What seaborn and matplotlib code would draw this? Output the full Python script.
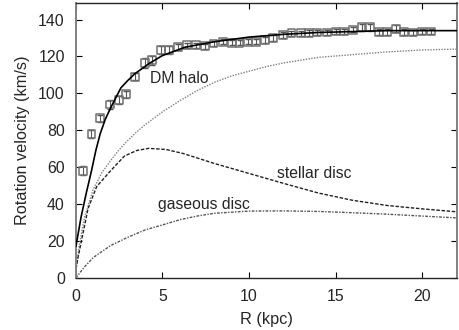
import matplotlib
matplotlib.use("Agg")
import matplotlib.pyplot as plt
import seaborn as sns
import pandas as pd

# observed rotation curve (kpc, km/s)
r_obs = [0.4, 0.9, 1.4, 1.95, 2.5, 2.9, 3.4, 4.0, 4.4, 4.9, 5.4, 5.9, 6.4, 6.95,
         7.45, 7.95, 8.5, 9.0, 9.45, 9.95, 10.4, 10.9, 11.4, 11.95, 12.45, 13.0,
         13.45, 13.95, 14.5, 15.0, 15.5, 16.0, 16.5, 17.0, 17.5, 17.95, 18.5,
         18.95, 19.45, 20.0, 20.5]
v_obs = [58, 78, 86.5, 94, 96.5, 99.5, 109, 116.5, 118, 123.5, 123.5, 125, 126,
         126, 125.5, 127, 128, 127.5, 127.5, 128, 128, 129, 130, 131.5, 132.5,
         132.5, 132.8, 133, 133, 133.5, 133.5, 134.5, 135.8, 135.8, 133.2, 133.2,
         135, 133.2, 133, 133.5, 133.5]
v_err = [2.5, 2, 2, 2.5, 2, 2, 2, 2.5, 2.5, 2, 2, 1.5, 1.5, 1.5, 1.5, 1.5, 1.5,
         1.5, 1.5, 1.5, 1.5, 1.5, 1.5, 1.5, 1.5, 1.5, 1.5, 1.5, 1.5, 1.5, 1.5,
         1.5, 2, 2, 1.5, 1.5, 2, 1.5, 1.5, 1.5, 1.5]

# model components
r_tot = [0, 0.3, 0.6, 0.9, 1.15, 1.4, 1.7, 2.0, 2.6, 3.0, 3.4, 4.2, 5.0, 6.3,
         8, 10, 12, 14, 16, 18, 20, 22]
v_tot = [17, 33, 46, 58, 69, 78, 86, 92, 103, 107, 110.6, 116, 120.5, 125,
         128, 130.5, 132, 133, 133.5, 134, 134, 134]

r_halo = [0, 0.2, 0.5, 1, 1.5, 2, 2.5, 3, 3.5, 4, 5, 6, 7, 8, 9, 10, 11, 12,
          14, 16, 18, 20, 22]
v_halo = [3, 18, 33, 48, 57, 63.5, 69.5, 74.5, 79, 83, 90, 96, 101.5, 106,
          109.5, 112, 114.5, 116.5, 119.5, 121, 122.5, 123.5, 124]

r_star = [0, 0.1, 0.33, 0.7, 1.2, 2.0, 2.8, 3.5, 4.2, 5.2, 6.2, 7, 8, 10, 12,
          14, 16, 18, 20, 22]
v_star = [5, 10, 20.5, 37.5, 49.5, 58, 66, 69, 70.2, 69.6, 67.4, 65, 62, 56.6,
          51.2, 46, 42, 39.2, 37.4, 35.8]

r_gas = [0, 0.5, 1, 2, 3, 4, 5, 6, 7, 8, 10, 12, 14, 16, 18, 20, 22]
v_gas = [0, 6, 11, 17.5, 22, 26, 28.7, 31.5, 33.5, 35, 36.2, 36.3, 36, 35.3,
         34.5, 33.5, 32.5]

sns.set_style("ticks")
plt.rcParams['font.family'] = ['Liberation Sans', 'DejaVu Sans']

fig = plt.figure(figsize=(4.6, 3.3), dpi=100)
ax = fig.add_axes([0.165, 0.158, 0.828, 0.833])

obs = pd.DataFrame({'R': r_obs, 'v': v_obs})
ax.errorbar(r_obs, v_obs, yerr=v_err, fmt='none', ecolor='#555555',
            elinewidth=0.8, capsize=2, zorder=2)
sns.scatterplot(data=obs, x='R', y='v', ax=ax, marker='s', s=32,
                facecolor='none', edgecolor='#707070', linewidth=1.1, zorder=3)

sns.lineplot(x=r_tot, y=v_tot, ax=ax, color='black', linewidth=1.2, zorder=4)
sns.lineplot(x=r_halo, y=v_halo, ax=ax, color='#808080', linewidth=1.0,
             linestyle=(0, (1, 1)))
sns.lineplot(x=r_star, y=v_star, ax=ax, color='#222222', linewidth=1.0,
             linestyle=(0, (2.5, 1.2)))
sns.lineplot(x=r_gas, y=v_gas, ax=ax, color='#555555', linewidth=1.0,
             linestyle=(0, (2, 1, 1, 1)))

ax.text(4.27, 108, 'DM halo', fontsize=11.3, va='center')
ax.text(11.6, 56.8, 'stellar disc', fontsize=11.3, va='center')
ax.text(4.73, 39.5, 'gaseous disc', fontsize=11.3, va='center')

ax.set_xlim(0, 22)
ax.set_ylim(0, 149)
ax.set_xticks([0, 5, 10, 15, 20])
ax.set_yticks([0, 20, 40, 60, 80, 100, 120, 140])
ax.set_xlabel('R (kpc)', fontsize=11.7, labelpad=6)
ax.set_ylabel('Rotation velocity (km/s)', fontsize=11.7, labelpad=6)
ax.tick_params(direction='in', top=True, right=True, length=4, width=0.8,
               labelsize=11.4, color='black')
ax.tick_params(axis='y', pad=8)
ax.tick_params(axis='x', pad=8)
for side in ['left', 'right']:
    ax.spines[side].set_color('#808080')
    ax.spines[side].set_linewidth(1.4)
for side in ['top', 'bottom']:
    ax.spines[side].set_linewidth(1.0)

fig.savefig('out.png', dpi=100)
